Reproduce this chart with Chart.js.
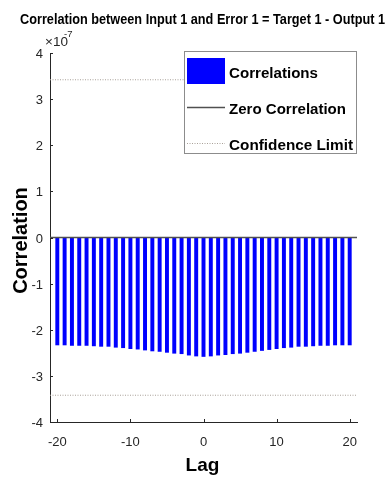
<!DOCTYPE html>
<html>
<head>
<meta charset="utf-8">
<title>Correlation between Input 1 and Error 1</title>
<script src="https://cdn.jsdelivr.net/npm/chart.js@4.4.1/dist/chart.umd.min.js"></script>
<style>
  html, body { margin: 0; padding: 0; background: #ffffff; }
  #wrap { width: 389px; height: 483px; position: relative; }
</style>
</head>
<body>
<div id="wrap"><canvas id="c" width="389" height="483"></canvas></div>
<script>
// Lags of the cross-correlation
const lags = [-20,-19,-18,-17,-16,-15,-14,-13,-12,-11,-10,-9,-8,-7,-6,-5,-4,-3,-2,-1,0,
              1,2,3,4,5,6,7,8,9,10,11,12,13,14,15,16,17,18,19,20];
// Correlation values, in units of 1e-7
const correlations = [-2.33,-2.33,-2.34,-2.34,-2.34,-2.35,-2.36,-2.36,-2.38,-2.39,-2.41,
                      -2.42,-2.44,-2.46,-2.47,-2.49,-2.51,-2.52,-2.55,-2.57,-2.58,
                      -2.57,-2.55,-2.54,-2.52,-2.51,-2.49,-2.47,-2.45,-2.43,-2.41,
                      -2.39,-2.38,-2.36,-2.36,-2.35,-2.34,-2.34,-2.33,-2.33,-2.33];
const confidenceLimit = 3.42;   // same units (1e-7)
const exponent = -7;
const xRange = [-21, 21];
const yRange = [-4, 4];
const xTickValues = [-20, -10, 0, 10, 20];
const yTickValues = [-4, -3, -2, -1, 0, 1, 2, 3, 4];

const titleText = 'Correlation between Input 1 and Error 1 = Target 1 - Output 1';
const xLabel = 'Lag';
const yLabel = 'Correlation';
const legendLabels = ['Correlations', 'Zero Correlation', 'Confidence Limit'];

const BLUE = '#0000ff';
const AXIS = '#262626';
const CONF = '#a8a098';
const FONT = '"Liberation Sans", Arial, Helvetica, sans-serif';

// draws text, optionally squeezed/stretched horizontally to a given width
function txt(ctx, s, x, y, font, align, color, fitWidth) {
  ctx.save();
  ctx.font = font;
  ctx.fillStyle = color || '#000';
  ctx.textBaseline = 'alphabetic';
  const w = ctx.measureText(s).width;
  const sx = fitWidth ? fitWidth / w : 1;
  let left = x;
  if (align === 'center') left = x - w * sx / 2;
  else if (align === 'right') left = x - w * sx;
  ctx.translate(left, y);
  ctx.scale(sx, 1);
  ctx.textAlign = 'left';
  ctx.fillText(s, 0, 0);
  ctx.restore();
}

const decorations = {
  id: 'decorations',
  afterDraw(chart) {
    const ctx = chart.ctx;
    const xs = chart.scales.x, ys = chart.scales.y;
    const area = chart.chartArea;

    // inward tick marks
    ctx.save();
    ctx.strokeStyle = AXIS;
    ctx.lineWidth = 1;
    ctx.beginPath();
    yTickValues.forEach(v => {
      const py = Math.round(ys.getPixelForValue(v)) + 0.5;
      ctx.moveTo(area.left, py); ctx.lineTo(area.left + 3, py);
    });
    xTickValues.forEach(v => {
      const px = Math.round(xs.getPixelForValue(v)) + 0.5;
      ctx.moveTo(px, area.bottom); ctx.lineTo(px, area.bottom - 3);
    });
    ctx.stroke();
    ctx.restore();

    // tick labels
    yTickValues.forEach(v => {
      txt(ctx, String(v), area.left - 7, ys.getPixelForValue(v) + 5, '13px ' + FONT, 'right', AXIS);
    });
    xTickValues.forEach(v => {
      txt(ctx, String(v), xs.getPixelForValue(v), area.bottom + 24, '13px ' + FONT, 'center', AXIS);
    });

    // exponent marker
    txt(ctx, '\u00d710', 45, 46, '13.5px ' + FONT, 'left', AXIS);
    txt(ctx, String(exponent), 64, 37, '9.5px ' + FONT, 'left', AXIS);

    // title and axis titles
    txt(ctx, titleText, 202.5, 24, 'bold 14.5px ' + FONT, 'center', '#000', 365);
    txt(ctx, xLabel, (area.left + area.right) / 2 - 1, 471, 'bold 19px ' + FONT, 'center', '#000');
    ctx.save();
    ctx.translate(27, (area.top + area.bottom) / 2 + 3);
    ctx.rotate(-Math.PI / 2);
    txt(ctx, yLabel, 0, 0, 'bold 20px ' + FONT, 'center', '#000');
    ctx.restore();

    // legend box
    const bx = 184, by = 51, bw = 172, bh = 102;
    ctx.save();
    ctx.fillStyle = '#ffffff';
    ctx.fillRect(bx, by, bw, bh);
    ctx.strokeStyle = '#8c8c8c';
    ctx.lineWidth = 1;
    ctx.strokeRect(bx + 0.5, by + 0.5, bw, bh);
    ctx.fillStyle = BLUE;
    ctx.fillRect(187, 58, 38, 26);
    ctx.strokeStyle = '#505050';
    ctx.lineWidth = 1.4;
    ctx.beginPath(); ctx.moveTo(187, 107.5); ctx.lineTo(225, 107.5); ctx.stroke();
    ctx.strokeStyle = CONF;
    ctx.lineWidth = 1;
    ctx.setLineDash([1, 1.5]);
    ctx.beginPath(); ctx.moveTo(187, 143.5); ctx.lineTo(225, 143.5); ctx.stroke();
    ctx.restore();
    const lf = 'bold 15.5px ' + FONT;
    txt(ctx, legendLabels[0], 229, 78, lf, 'left', '#000', 89);
    txt(ctx, legendLabels[1], 229, 114, lf, 'left', '#000', 117);
    txt(ctx, legendLabels[2], 229, 150, lf, 'left', '#000', 124);
  }
};

const barData = lags.map((l, i) => ({ x: l, y: correlations[i] }));
const zeroLine = xRange.map(x => ({ x: x, y: 0 }));
const upperLimit = xRange.map(x => ({ x: x, y: confidenceLimit }));
const lowerLimit = xRange.map(x => ({ x: x, y: -confidenceLimit }));

new Chart(document.getElementById('c'), {
  type: 'bar',
  data: {
    datasets: [
      { type: 'bar', label: legendLabels[0], data: barData, backgroundColor: BLUE,
        barThickness: 3.3, borderWidth: 0, order: 3 },
      { type: 'line', label: legendLabels[1], data: zeroLine, borderColor: '#505050',
        borderWidth: 1.5, pointRadius: 0, order: 1 },
      { type: 'line', label: legendLabels[2], data: upperLimit, borderColor: CONF,
        borderWidth: 1, borderDash: [1, 1.5], pointRadius: 0, order: 2 },
      { type: 'line', label: legendLabels[2], data: lowerLimit, borderColor: CONF,
        borderWidth: 1, borderDash: [1, 1.5], pointRadius: 0, order: 2 }
    ]
  },
  options: {
    responsive: false,
    animation: false,
    devicePixelRatio: 1,
    layout: { padding: { left: 0, top: 53, right: 32, bottom: 0 } },
    plugins: { legend: { display: false }, title: { display: false }, tooltip: { enabled: false } },
    scales: {
      x: {
        type: 'linear', min: xRange[0], max: xRange[1], offset: false,
        grid: { display: false, drawTicks: false },
        border: { display: true, color: AXIS, width: 1 },
        ticks: { display: false },
        afterBuildTicks: s => { s.ticks = xTickValues.map(v => ({ value: v })); },
        afterFit: s => { s.height = 61; }
      },
      y: {
        type: 'linear', min: yRange[0], max: yRange[1],
        grid: { display: false, drawTicks: false },
        border: { display: true, color: AXIS, width: 1 },
        ticks: { display: false },
        afterBuildTicks: s => { s.ticks = yTickValues.map(v => ({ value: v })); },
        afterFit: s => { s.width = 50; }
      }
    }
  },
  plugins: [decorations]
});
</script>
</body>
</html>
